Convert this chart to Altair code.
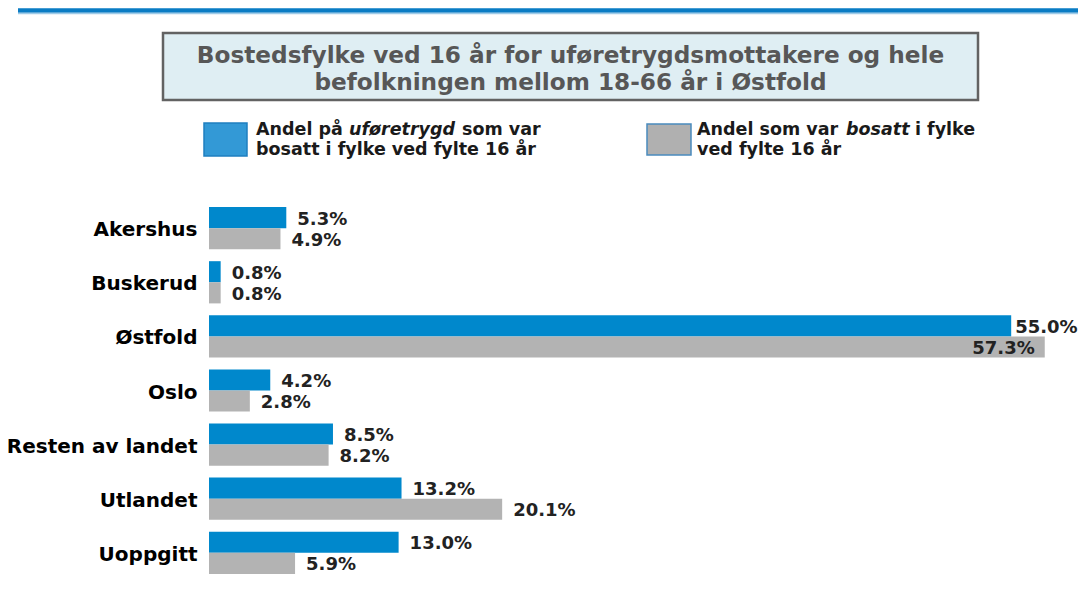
import altair as alt
import pandas as pd

# ---- data ----
categories = ["Akershus", "Buskerud", "Østfold", "Oslo", "Resten av landet", "Utlandet", "Uoppgitt"]
ufore_share = [5.3, 0.8, 55.0, 4.2, 8.5, 13.2, 13.0]    # Andel på uføretrygd
bosatt_share = [4.9, 0.8, 57.3, 2.8, 8.2, 20.1, 5.9]    # Andel bosatt
series = ["uføretrygd", "bosatt"]
series_colors = ["#0088cc", "#b3b3b3"]
title_lines = ["Bostedsfylke ved 16 år for uføretrygdsmottakere og hele",
               "befolkningen mellom 18-66 år i Østfold"]

rows = []
for c, u, b in zip(categories, ufore_share, bosatt_share):
    rows.append({"fylke": c, "serie": series[0], "andel": u})
    rows.append({"fylke": c, "serie": series[1], "andel": b})
df = pd.DataFrame(rows)
df["label"] = df["andel"].map(lambda v: f"{v:.1f}%")

W, H = 869, 369
XMAX = 59.58
# labels that would run past the chart edge: inside the bar, or tucked closer
df["pos"] = "out"
df.loc[df["andel"] > 56, "pos"] = "in"
df.loc[(df["andel"] > 54) & (df["andel"] <= 56), "pos"] = "tight"

xscale = alt.Scale(domain=[0, XMAX])
yscale = alt.Scale(paddingInner=0.22, paddingOuter=0.02)

base = alt.Chart(df)
y_enc = alt.Y("fylke:N", sort=categories, scale=yscale,
              axis=alt.Axis(title=None, domain=False, ticks=False, labelPadding=12,
                            labelLimit=400, labelOffset=2,
                            labelFont="DejaVu Sans", labelFontWeight="bold",
                            labelFontSize=20, labelColor="#000000"))
yoff = alt.YOffset("serie:N", sort=series, scale=alt.Scale(domain=series))
x_enc = alt.X("andel:Q", scale=xscale, axis=None)

bars = base.mark_bar().encode(
    y=y_enc, yOffset=yoff, x=x_enc,
    color=alt.Color("serie:N", scale=alt.Scale(domain=series, range=series_colors), legend=None),
)

lbl_style = dict(font="DejaVu Sans", fontWeight="bold", fontSize=18,
                 color="#222222", baseline="middle", dy=2)
def value_labels(pos, align, dx):
    return base.transform_filter(f"datum.pos == '{pos}'").mark_text(
        align=align, dx=dx, **lbl_style).encode(
        y=alt.Y("fylke:N", sort=categories, scale=yscale), yOffset=yoff, x=x_enc, text="label:N")

labels_out = value_labels("out", "left", 11)
labels_tight = value_labels("tight", "left", 4)
labels_in = value_labels("in", "right", -10)

one = alt.Chart(pd.DataFrame({"k": [0]}))

# decorations: top stripe, title box, legend
stripe = one.mark_rule(color="#0a7cc4", strokeWidth=4.5).encode(
    x=alt.value(-191), x2=alt.value(877), y=alt.value(-195.5))
stripe2 = one.mark_rule(color="#9fcbe8", strokeWidth=1.5).encode(
    x=alt.value(-191), x2=alt.value(877), y=alt.value(-192.5))

title_box = one.mark_rect(fill="#dfeef3", stroke="#626262", strokeWidth=2.5).encode(
    x=alt.value(-46), x2=alt.value(769), y=alt.value(-173), y2=alt.value(-106))
tstyle = dict(font="DejaVu Sans", fontWeight="bold", fontSize=23.2, color="#575757",
              align="center", baseline="alphabetic")
title1 = one.mark_text(text=title_lines[0], **tstyle).encode(x=alt.value(361.5), y=alt.value(-143))
title2 = one.mark_text(text=title_lines[1], **tstyle).encode(x=alt.value(361.5), y=alt.value(-116))

sq1 = one.mark_rect(fill="#3399d6", stroke="#1f7fc0", strokeWidth=1.5).encode(
    x=alt.value(-5), x2=alt.value(38), y=alt.value(-83), y2=alt.value(-50))
sq2 = one.mark_rect(fill="#b0b0b0", stroke="#4a8bbd", strokeWidth=1.5).encode(
    x=alt.value(438), x2=alt.value(482), y=alt.value(-82), y2=alt.value(-51))

lstyle = dict(font="DejaVu Sans", fontWeight="bold", fontSize=17.5, color="#1a1a1a",
              align="left", baseline="alphabetic")
def seg(txt, x, y, italic=False):
    st = dict(lstyle)
    if italic:
        st["fontStyle"] = "italic"
    return one.mark_text(text=txt, **st).encode(x=alt.value(x), y=alt.value(y))

L1, L2 = -71, -51
legend_text = [
    seg("Andel på", 47, L1),
    seg("uføretrygd", 140, L1, italic=True),
    seg("som var", 253, L1),
    seg("bosatt i fylke ved fylte 16 år", 47, L2),
    seg("Andel som var", 488, L1),
    seg("bosatt", 637, L1, italic=True),
    seg("i fylke", 706, L1),
    seg("ved fylte 16 år", 488, L2),
]

chart = alt.layer(
    stripe, stripe2, title_box, title1, title2, sq1, sq2, *legend_text,
    bars, labels_out, labels_tight, labels_in,
).resolve_scale(y="shared").properties(
    width=W, height=H,
    autosize=alt.AutoSizeParams(type="none"),
    padding={"left": 201, "top": 198, "right": 0, "bottom": 3},
    background="white",
).configure_view(stroke=None)

chart.save("out.html", embed_options={"renderer": "svg", "actions": False})
